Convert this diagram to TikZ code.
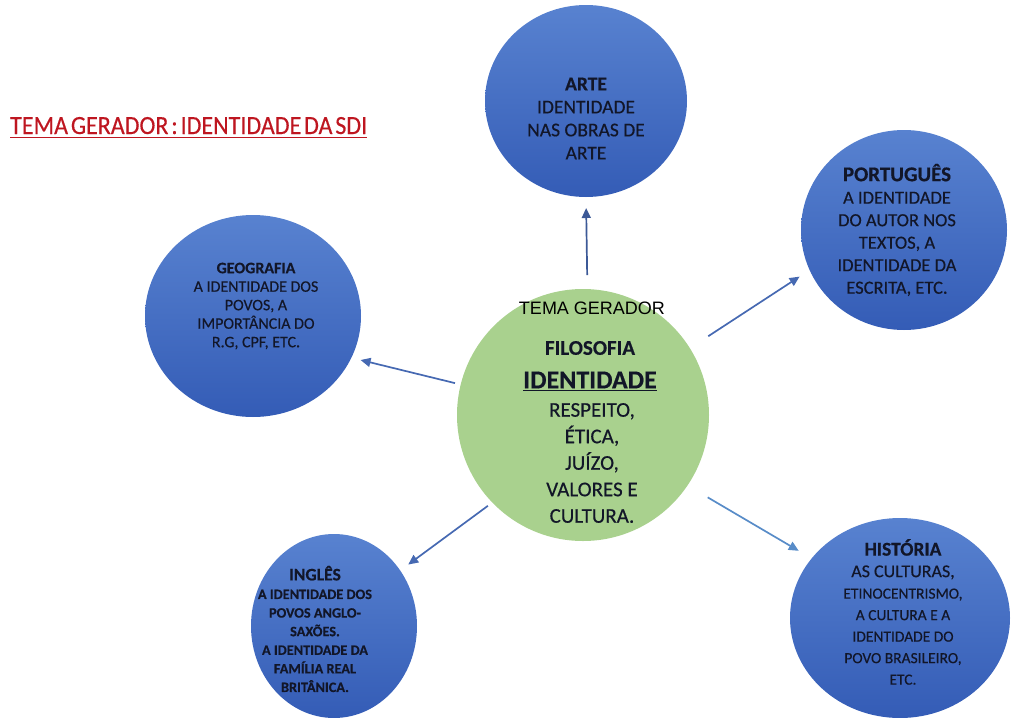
\documentclass[tikz,border=0pt]{standalone}
\usepackage{graphicx}
\usepackage{fontspec}
\setmainfont{Carlito}[FakeBold=0.4]
\newfontfamily\arialf{Liberation Sans}
\usetikzlibrary{arrows.meta,shapes.geometric}
\definecolor{bluetop}{RGB}{88,130,208}
\definecolor{bluebot}{RGB}{52,92,182}
\definecolor{greenfill}{RGB}{169,209,142}
\definecolor{txt}{RGB}{18,22,40}
\definecolor{arrowc}{RGB}{70,105,178}
\definecolor{arrowlight}{RGB}{88,140,200}
\definecolor{titlered}{RGB}{190,22,32}
\begin{document}
\begin{tikzpicture}[x=1pt,y=-1pt,
  bluecirc/.style={ellipse, inner sep=0pt, outer sep=0pt, top color=bluetop, bottom color=bluebot, draw=none},
  greencirc/.style={circle, inner sep=0pt, outer sep=0pt, fill=greenfill, minimum size=252pt},
  lbl/.style={align=center, text=txt, inner sep=0pt},
  arr/.style={draw=arrowc, line width=1.7pt, -{Triangle[length=10pt,width=9pt]}}
]
\useasboundingbox (0,0) rectangle (1013,718);

% title
\node[anchor=base west, text=titlered, inner sep=0pt] (title) at (10,134)
  {\resizebox{357pt}{17pt}{\spaceskip=.12em\underline{TEMA GERADOR : IDENTIDADE DA SDI}}};

% circles
\node[bluecirc, minimum width=202pt, minimum height=192pt] (arte) at (586,101) {};
\node[bluecirc, minimum width=206pt, minimum height=200pt] (port) at (904,230) {};
\node[bluecirc, minimum width=216pt, minimum height=202pt] (geo) at (253,316) {};
\node[bluecirc, minimum width=166pt, minimum height=184pt] (ing) at (334,626) {};
\node[bluecirc, minimum width=220pt, minimum height=200pt] (hist) at (900,618) {};
\node[greencirc] (green) at (583,415) {};

% texts
\node[lbl, font=\fontsize{19.5}{23}\selectfont] (artetxt) at (586,118.5)
  {\textbf{ARTE}\\IDENTIDADE\\NAS OBRAS DE\\ARTE};
\node[lbl, font=\fontsize{18.5}{22.5}\selectfont] (porttxt) at (897,230)
  {{\fontsize{21}{22.5}\selectfont\bfseries PORTUGUÊS}\\A IDENTIDADE\\DO AUTOR NOS\\TEXTOS, A\\IDENTIDADE DA\\ESCRITA, ETC.};
\node[lbl, font=\fontsize{16}{18.5}\selectfont] (geotxt) at (256,306)
  {{\fontsize{16}{18.5}\selectfont\bfseries GEOGRAFIA}\\A IDENTIDADE DOS\\POVOS, A\\IMPORTÂNCIA DO\\R.G, CPF, ETC.};
\node[lbl, font=\fontsize{14.3}{18.6}\selectfont\bfseries] (ingtxt) at (315,629)
  {{\fontsize{17.6}{18.6}\selectfont INGLÊS}\\A IDENTIDADE DOS\\POVOS ANGLO-\\SAXÕES.\\A IDENTIDADE DA\\FAMÍLIA REAL\\BRITÂNICA.};
\node[lbl, font=\fontsize{15.5}{21.5}\selectfont] (histtxt) at (903,612)
  {{\fontsize{19.5}{21.5}\selectfont\bfseries HISTÓRIA}\\{\fontsize{18}{21.5}\selectfont AS CULTURAS,}\\ETINOCENTRISMO,\\A CULTURA E A\\IDENTIDADE DO\\POVO BRASILEIRO,\\ETC.};

\node[lbl, text=black, font=\arialf\fontsize{18}{20}\selectfont] (tema) at (592,308) {TEMA GERADOR};
\node[lbl, font=\fontsize{21}{24}\selectfont\bfseries] (filo) at (590,348) {FILOSOFIA};
\node[lbl, font=\fontsize{26}{28}\selectfont\bfseries] (ident) at (590,381) {\underline{IDENTIDADE}};
\node[lbl, font=\fontsize{21}{26.5}\selectfont] (valores) at (592,463)
  {RESPEITO,\\ÉTICA,\\JUÍZO,\\VALORES E\\CULTURA.};

% arrows
\draw[arr, draw=arrowc!85!black, shorten <=14pt, shorten >=11pt] (green.88.5) -- (arte.270);
\draw[arr, shorten <=22pt, shorten >=12pt] (green.32.3) -- (port.203.5);
\draw[arr, shorten <=6pt, shorten >=9.5pt] (green.166) -- (geo.337.6);
\draw[arr, shorten <=5.6pt, shorten >=10pt] (green.224) -- (ing.40.4);
\draw[arr, draw=arrowlight, shorten <=23.5pt, shorten >=15pt] (green.326.4) -- (hist.146.9);
\end{tikzpicture}
\end{document}
